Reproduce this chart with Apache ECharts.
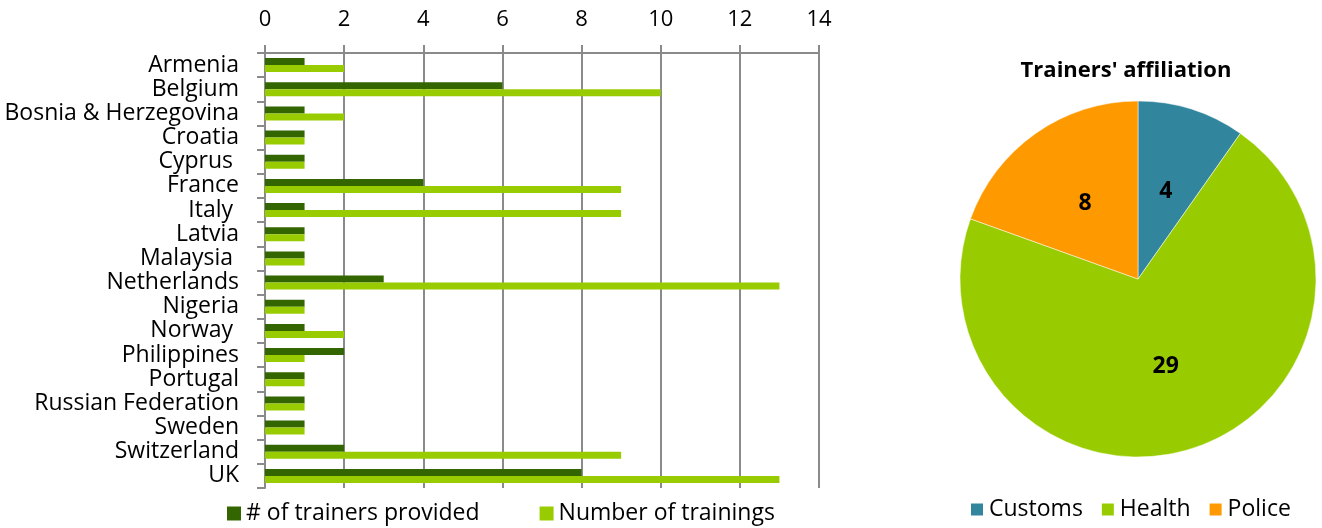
<!DOCTYPE html>
<html>
<head>
<meta charset="utf-8">
<script src="https://cdn.jsdelivr.net/npm/echarts@6/dist/echarts.min.js"></script>
<style>
html,body{margin:0;padding:0;background:#fff;}
#c{width:1322px;height:528px;}
</style>
</head>
<body>
<div id="c"></div>
<script>
const categories = ["Armenia","Belgium","Bosnia & Herzegovina","Croatia","Cyprus ","France","Italy ","Latvia","Malaysia ","Netherlands","Nigeria","Norway ","Philippines","Portugal","Russian Federation","Sweden","Switzerland","UK"];
const trainersProvided = [1,6,1,1,1,4,1,1,1,3,1,1,2,1,1,1,2,8];
const numberOfTrainings = [2,10,2,1,1,9,9,1,1,13,1,2,1,1,1,1,9,13];
const xTicks = {min:0, max:14, interval:2};
const pieTitle = "Trainers' affiliation";
const pieNames = ["Customs","Health","Police"];
const pieValues = [4,29,8];

const FONT = "Open Sans";
const FS = 23;
const chart = echarts.init(document.getElementById('c'), null, {renderer:'canvas'});
const gray = '#8a8a8a';
chart.setOption({
  animation:false,
  textStyle:{fontFamily:FONT},
  color:['#336600','#99CC00'],
  title:{text:pieTitle, left:1121, top:55, textAlign:'center',
    textStyle:{fontFamily:FONT, fontWeight:'bold', fontSize:22, color:'#000'}},
  grid:{left:265, right:503, top:53, bottom:40, containLabel:false},
  xAxis:{type:'value', position:'top', min:xTicks.min, max:xTicks.max, interval:xTicks.interval,
    axisLine:{show:true, lineStyle:{color:gray, width:2}},
    axisTick:{show:true, length:8, lineStyle:{color:gray, width:2}},
    splitLine:{show:true, lineStyle:{color:gray, width:2}},
    axisLabel:{fontSize:22, color:'#000', margin:22, fontFamily:FONT}},
  yAxis:{type:'category', data:categories, inverse:true,
    axisLine:{show:true, lineStyle:{color:gray, width:2}},
    axisTick:{show:true, length:8, lineStyle:{color:gray, width:2}},
    axisLabel:{fontSize:FS, color:'#000', margin:26, fontFamily:FONT, lineHeight:24, interval:0,
      padding:[3,0,0,0]}},
  legend:[{data:['# of trainers provided','Number of trainings'], left:222, top:497,
      itemWidth:14, itemHeight:14, itemGap:60, icon:'rect',
      textStyle:{fontSize:FS, color:'#000', fontFamily:FONT}},
    {data:pieNames, left:964, top:493, itemWidth:14, itemHeight:14, itemGap:17, icon:'rect',
      textStyle:{fontSize:FS, color:'#000', fontFamily:FONT}}],
  series:[
    {name:'# of trainers provided', type:'bar', data:trainersProvided, barWidth:7, barGap:'0%',
      itemStyle:{color:'#336600'}},
    {name:'Number of trainings', type:'bar', data:numberOfTrainings, barWidth:7, barGap:'0%',
      itemStyle:{color:'#99CC00'}},
    {type:'pie', center:[1138,279], radius:178, startAngle:90, clockwise:true,
      data:pieNames.map((n,i)=>({name:n, value:pieValues[i]})),
      color:['#31859C','#99CC00','#FF9900'],
      itemStyle:{borderColor:'#fff', borderWidth:0.5},
      label:{show:true, position:'inside', formatter:'{c}', fontSize:23, fontWeight:'bold', color:'#000', fontFamily:FONT},
      labelLine:{show:false}}
  ]
});
</script>
</body>
</html>
